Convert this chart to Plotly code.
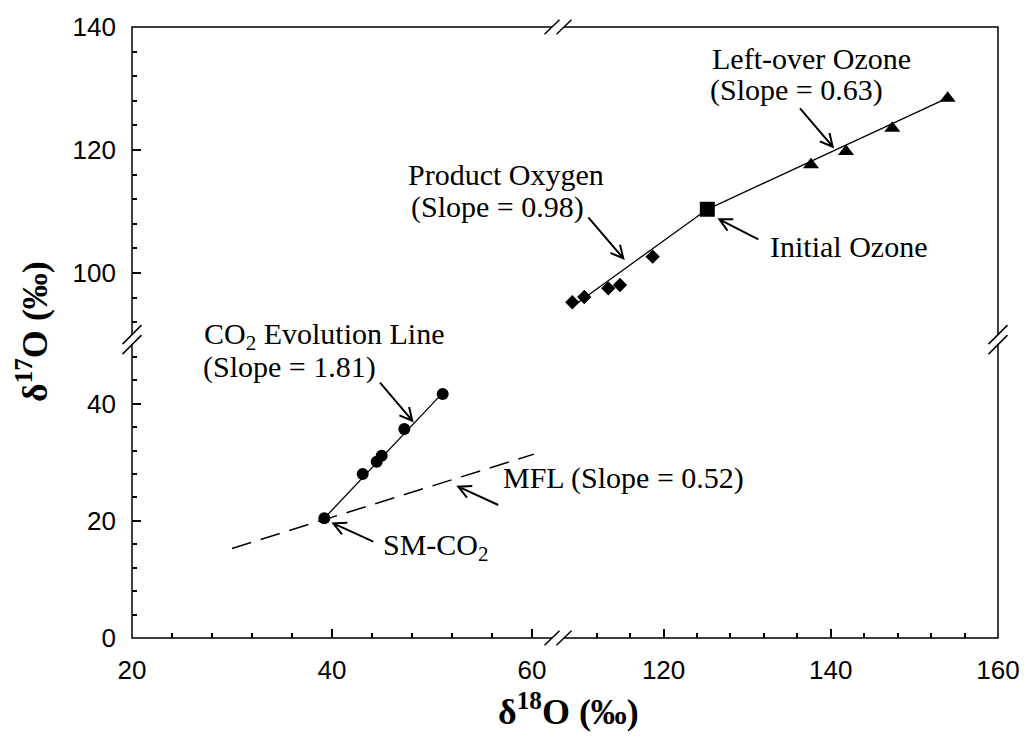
import math
import plotly.graph_objects as go

# ---------------- data ----------------
# lower panel: CO2 (x: d18O 20-60, y: d17O 0-50)
co2_x = [39.23, 43.07, 44.47, 44.97, 47.23, 51.07]
co2_y = [20.44, 28.01, 30.11, 31.14, 35.70, 41.67]
co2_line_x = [39.23, 51.07]
co2_line_y = [20.44, 41.87]
mfl_x = [30.0, 60.2]
mfl_y = [15.3, 31.4]

# upper panel: ozone / oxygen (x: d18O 107-160, y: d17O 89-140)
oxygen_x = [109.08, 110.51, 113.38, 114.78, 118.69]
oxygen_y = [95.24, 96.10, 97.51, 98.05, 102.65]
initial_x = [125.23]
initial_y = [110.36]
leftover_x = [137.63, 141.82, 147.36, 153.98]
leftover_y = [117.6, 119.75, 123.55, 128.4]
oxygen_line_x = [108.9, 125.23]
oxygen_line_y = [94.36, 110.36]
ozone_line_x = [125.23, 154.0]
ozone_line_y = [110.36, 128.48]

# axis ticks
x_major_left = [20, 40, 60]
x_minor_left = [24, 28, 32, 36, 44, 48, 52, 56]
x_major_right = [120, 140, 160]
x_minor_right = [112, 116, 124, 128, 132, 136, 144, 148, 152, 156]
y_major_low = [0, 20, 40]
y_minor_low = [4, 8, 12, 16, 24, 28, 32, 36, 44, 48]
y_major_high = [100, 120, 140]
y_minor_high = [92, 96, 104, 108, 112, 116, 124, 128, 132, 136]

# ---------------- layout geometry ----------------
W, H = 1031, 743
ML, MR, MT, MB = 132, 33, 27, 105
PW, PH = W - ML - MR, H - MT - MB
XBREAK_PX = 558.0
YBREAK_PX = 339.6
XB = (XBREAK_PX - ML) / PW
YB = (H - MB - YBREAK_PX) / PH


def P(x):
    return (x - ML) / PW


def Q(y):
    return (H - MB - y) / PH


serif = "Liberation Serif, Times New Roman, serif"
sans = "Liberation Sans, Arial, sans-serif"

fig = go.Figure()

line_style = dict(color="black", width=1.3)

fig.add_trace(go.Scatter(x=mfl_x, y=mfl_y, mode="lines", xaxis="x", yaxis="y",
                         line=dict(color="black", width=1.5, dash="20px,10px"),
                         showlegend=False, hoverinfo="skip"))
fig.add_trace(go.Scatter(x=co2_line_x, y=co2_line_y, mode="lines", xaxis="x", yaxis="y",
                         line=line_style, showlegend=False))
fig.add_trace(go.Scatter(x=co2_x, y=co2_y, mode="markers", xaxis="x", yaxis="y",
                         marker=dict(symbol="circle", size=12, color="black"),
                         showlegend=False))

fig.add_trace(go.Scatter(x=oxygen_line_x, y=oxygen_line_y, mode="lines", xaxis="x2", yaxis="y2",
                         line=line_style, showlegend=False))
fig.add_trace(go.Scatter(x=ozone_line_x, y=ozone_line_y, mode="lines", xaxis="x2", yaxis="y2",
                         line=line_style, showlegend=False))
fig.add_trace(go.Scatter(x=oxygen_x, y=oxygen_y, mode="markers", xaxis="x2", yaxis="y2",
                         marker=dict(symbol="diamond", size=11, color="black"),
                         showlegend=False))
fig.add_trace(go.Scatter(x=leftover_x, y=leftover_y, mode="markers", xaxis="x2", yaxis="y2",
                         marker=dict(symbol="triangle-up", size=14, color="black"),
                         showlegend=False))
fig.add_trace(go.Scatter(x=initial_x, y=initial_y, mode="markers", xaxis="x2", yaxis="y2",
                         marker=dict(symbol="square", size=15, color="black"),
                         showlegend=False))


def axis_common(major, minor):
    return dict(
        tickmode="array", tickvals=major, ticktext=[str(v) for v in major],
        ticks="inside", ticklen=9, tickwidth=1.5, tickcolor="black",
        minor=dict(tickmode="array", tickvals=minor, ticks="inside", ticklen=5,
                   tickwidth=1.5, tickcolor="black", showgrid=False),
        showgrid=False, zeroline=False, showline=False,
        tickfont=dict(family=sans, size=26, color="black"),
        fixedrange=True,
    )


fig.update_layout(
    width=W, height=H,
    margin=dict(l=ML, r=MR, t=MT, b=MB, pad=0),
    paper_bgcolor="white", plot_bgcolor="white",
    xaxis=dict(domain=[0, XB], range=[20, 20 + (XBREAK_PX - ML) / 10.0], anchor="y",
               ticklabelstandoff=14, **axis_common(x_major_left, x_minor_left)),
    xaxis2=dict(domain=[XB, 1], range=[160 - (ML + PW - XBREAK_PX) / 8.36, 160], anchor="y",
                ticklabelstandoff=14, **axis_common(x_major_right, x_minor_right)),
    yaxis=dict(domain=[0, YB], range=[0, (H - MB - YBREAK_PX) / 5.855], anchor="x",
               ticklabelstandoff=15, **axis_common(y_major_low, y_minor_low)),
    yaxis2=dict(domain=[YB, 1], range=[140 - (YBREAK_PX - MT) / 6.15, 140], anchor="x",
                ticklabelstandoff=15, **axis_common(y_major_high, y_minor_high)),
)

# ---------------- frame with break marks ----------------
shapes = []
blk = dict(color="black", width=1.5)
wht = dict(color="white", width=4)
shapes.append(dict(type="rect", xref="paper", yref="paper", x0=0, y0=0, x1=1, y1=1,
                   line=blk, layer="above"))
for yy in (MT, H - MB):
    shapes.append(dict(type="line", xref="paper", yref="paper",
                       x0=P(XBREAK_PX - 6), x1=P(XBREAK_PX + 6), y0=Q(yy), y1=Q(yy),
                       line=wht, layer="above"))
    for dx in (-6, 6):
        cx = XBREAK_PX + dx
        shapes.append(dict(type="line", xref="paper", yref="paper",
                           x0=P(cx - 7.5), y0=Q(yy + 7.2), x1=P(cx + 7.5), y1=Q(yy - 7.2),
                           line=blk, layer="above"))
for xx in (ML, ML + PW):
    shapes.append(dict(type="line", xref="paper", yref="paper",
                       x0=P(xx), x1=P(xx), y0=Q(YBREAK_PX - 5), y1=Q(YBREAK_PX + 5),
                       line=wht, layer="above"))
    for dy in (-5, 5):
        cy = YBREAK_PX + dy
        shapes.append(dict(type="line", xref="paper", yref="paper",
                           x0=P(xx - 9.5), y0=Q(cy + 9.5), x1=P(xx + 9.5), y1=Q(cy - 9.5),
                           line=blk, layer="above"))


# ---------------- annotation arrows (open V heads) ----------------
def arrow(tail, tip, arm=14.0, ang=27.0):
    dx, dy = tip[0] - tail[0], tip[1] - tail[1]
    n = math.hypot(dx, dy)
    ux, uy = dx / n, dy / n
    pts = []
    for s in (1, -1):
        a = math.radians(ang) * s
        rx = ux * math.cos(a) - uy * math.sin(a)
        ry = ux * math.sin(a) + uy * math.cos(a)
        pts.append((tip[0] - arm * rx, tip[1] - arm * ry))
    path = (f"M{P(tail[0])},{Q(tail[1])} L{P(tip[0])},{Q(tip[1])} "
            f"M{P(pts[0][0])},{Q(pts[0][1])} L{P(tip[0])},{Q(tip[1])} "
            f"L{P(pts[1][0])},{Q(pts[1][1])}")
    shapes.append(dict(type="path", xref="paper", yref="paper", path=path,
                       line=dict(color="black", width=2), layer="above"))


arrow((800, 108.3), (832.7, 146.7))
arrow((588.3, 217.3), (623.3, 258.3))
arrow((758.3, 239.3), (719.3, 219.3))
arrow((380, 382.7), (412.3, 420.7))
arrow((498.3, 505), (458.3, 486.7))
arrow((373.3, 541.7), (333.3, 523.3))

fig.update_layout(shapes=shapes)

# ---------------- annotation texts ----------------
ann = []
tfont = dict(family=serif, size=30, color="black")


def label(text, left, midy):
    ann.append(dict(text=text, xref="paper", yref="paper", x=P(left - 2), y=Q(midy),
                    xanchor="left", yanchor="middle", showarrow=False, font=tfont))


label("Left-over Ozone", 712, 58)
label("(Slope = 0.63)", 710, 90)
label("Product Oxygen", 408, 174)
label("(Slope = 0.98)", 411, 207)
label("Initial Ozone", 770, 246)
label("CO<sub>2</sub> Evolution Line", 204, 336)
label("(Slope = 1.81)", 203, 367)
label("MFL (Slope = 0.52)", 503, 478)
label("SM-CO<sub>2</sub>", 383, 547)

# axis titles
ttl = dict(family=serif, size=36, color="black")
ann.append(dict(text="<b>δ<sup>18</sup>O (‰)</b>", xref="paper", yref="paper",
                x=P(568), y=Q(709), xanchor="center", yanchor="middle",
                showarrow=False, font=ttl))
ann.append(dict(text="<b>δ<sup>17</sup>O (‰)</b>", xref="paper", yref="paper",
                x=P(32), y=Q(332), xanchor="center", yanchor="middle", textangle=-90,
                showarrow=False, font=ttl))

fig.update_layout(annotations=ann)

fig.write_html("out.html")
